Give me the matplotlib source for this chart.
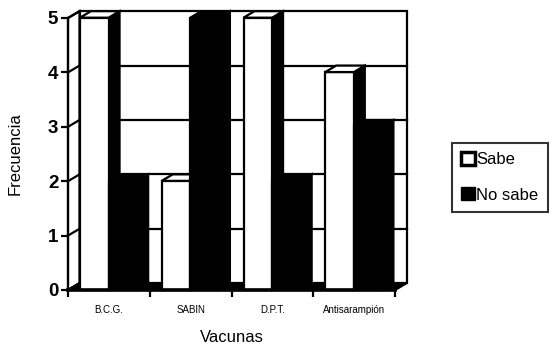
import matplotlib
matplotlib.use("Agg")
import matplotlib.pyplot as plt
from matplotlib.patches import Polygon, Patch

# Frequency of knowing / not knowing each vaccine
categories = ["B.C.G.", "SABIN", "D.P.T.", "Antisarampión"]
sabe = [5, 2, 5, 4]
no_sabe = [2, 5, 2, 3]
series_names = ["Sabe", "No sabe"]
y_ticks = [0, 1, 2, 3, 4, 5]

plt.rcParams['font.family'] = ['Liberation Sans', 'DejaVu Sans']

W, H = 553, 346
fig = plt.figure(figsize=(W / 100, H / 100), dpi=100)
ax = fig.add_axes([68 / W, 56 / H, 327 / W, 272 / H])
n = len(categories)
ymax = y_ticks[-1]
ax.set_xlim(0, n)
ax.set_ylim(0, ymax)

# depth of the 3-D box expressed in data units
px_x = 327 / n
px_y = 272 / ymax
DX = 11.5 / px_x
DY = 6.8 / px_y
lw = 1.6


def poly(pts, fc, z):
    ax.add_patch(Polygon(pts, closed=True, facecolor=fc, edgecolor='black',
                         lw=lw, clip_on=False, zorder=z, joinstyle='miter'))


# walls and floor
poly([(DX, DY), (n + DX, DY), (n + DX, ymax + DY), (DX, ymax + DY)], 'white', 1)
poly([(0, 0), (DX, DY), (DX, ymax + DY), (0, ymax)], 'white', 1)
poly([(0, 0), (n, 0), (n + DX, DY), (DX, DY)], 'black', 1.5)

# gridlines on the back wall and the side wall
for t in y_ticks[1:-1]:
    ax.plot([DX, n + DX], [t + DY, t + DY], color='black', lw=lw,
            clip_on=False, zorder=1.2)
for t in y_ticks:
    ax.plot([0, DX], [t, t + DY], color='black', lw=lw, clip_on=False, zorder=1.2)

# 3-D columns
bar_w = 0.35
starts = [0.14, 0.49]
d0, d1 = 0.05, 1.0
face_colors = ['white', 'black']
for i in range(n):
    for j, vals in enumerate([sabe, no_sabe]):
        v = vals[i]
        x0 = i + starts[j] + d0 * DX
        y0 = d0 * DY
        x1 = x0 + bar_w
        ddx = (d1 - d0) * DX
        ddy = (d1 - d0) * DY
        z = 2 + i * 0.1 + j * 0.01
        poly([(x1, y0), (x1 + ddx, y0 + ddy), (x1 + ddx, y0 + v + ddy), (x1, y0 + v)],
             'black', z)
        poly([(x0, y0), (x1, y0), (x1, y0 + v), (x0, y0 + v)], face_colors[j], z)
        poly([(x0, y0 + v), (x0 + ddx, y0 + v + ddy), (x1 + ddx, y0 + v + ddy),
              (x1, y0 + v)], face_colors[j], z)

# axes
for s in ['top', 'right']:
    ax.spines[s].set_visible(False)
ax.spines['left'].set_linewidth(lw)
ax.spines['bottom'].set_linewidth(2.6)
ax.spines['bottom'].set_zorder(5)
ax.spines['left'].set_zorder(5)

ax.set_yticks(y_ticks)
ax.set_yticklabels([str(t) for t in y_ticks], fontsize=13.5, fontweight='bold')
ax.tick_params(axis='y', direction='out', length=5, width=lw, pad=2)

ax.set_xticks(range(n + 1))
ax.set_xticklabels([])
ax.set_xticks([i + 0.5 for i in range(n)], minor=True)
ax.set_xticklabels(categories, minor=True, fontsize=7)
ax.tick_params(axis='x', which='major', direction='out', length=5, width=lw)
ax.tick_params(axis='x', which='minor', length=0, pad=11)

ax.set_xlabel("Vacunas", fontsize=12)
ax.xaxis.set_label_coords(0.5, -0.147)
ax.set_ylabel("Frecuencia", fontsize=12)
ax.yaxis.set_label_coords(-0.138, 0.5)

handles = [Patch(facecolor='white', edgecolor='black', lw=2.5),
           Patch(facecolor='black', edgecolor='black', lw=1)]
leg = fig.legend(handles, series_names, loc='upper left',
                 bbox_to_anchor=(452 / W, 1 - 143 / H), frameon=True,
                 fancybox=False, edgecolor='black', fontsize=12,
                 handlelength=0.8, handleheight=0.8, handletextpad=0.12,
                 borderpad=0.55, labelspacing=1.2, borderaxespad=0)
leg.get_frame().set_linewidth(1.5)

fig.savefig("out.png", dpi=100)
